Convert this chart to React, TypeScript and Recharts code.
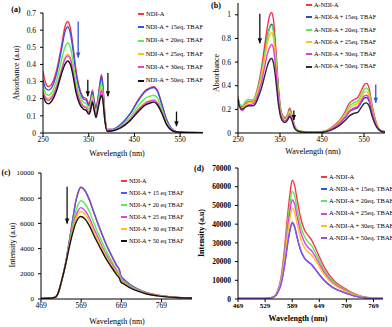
import React from 'react';
import { LineChart, Line, XAxis, YAxis, ReferenceLine, ReferenceDot } from 'recharts';

const FONT = '"Liberation Serif", "Times New Roman", serif';

// ---- (a) NDI-A absorbance ----
const waveA = [250, 256, 262, 270, 280, 290, 298, 304, 310, 316, 322, 330, 338, 345, 350, 354, 358, 362, 366, 371, 375, 378, 381, 385, 390, 400, 420, 440, 460, 475, 485, 492, 500, 510, 520, 530, 540, 550, 570, 600];
const absA0 = [0.36, 0.29, 0.27, 0.29, 0.37, 0.50, 0.62, 0.65, 0.61, 0.50, 0.37, 0.26, 0.21, 0.20, 0.17, 0.20, 0.25, 0.19, 0.15, 0.22, 0.30, 0.34, 0.28, 0.12, 0.02, 0.02, 0.05, 0.11, 0.20, 0.25, 0.265, 0.27, 0.25, 0.17, 0.08, 0.03, 0.01, 0.005, 0.003, 0.002];
const absA15 = [0.31, 0.26, 0.25, 0.27, 0.35, 0.48, 0.59, 0.62, 0.58, 0.48, 0.35, 0.25, 0.20, 0.19, 0.16, 0.19, 0.24, 0.18, 0.14, 0.21, 0.29, 0.33, 0.27, 0.11, 0.02, 0.02, 0.05, 0.11, 0.195, 0.245, 0.26, 0.265, 0.245, 0.165, 0.08, 0.03, 0.01, 0.005, 0.003, 0.002];
const absA20 = [0.28, 0.23, 0.22, 0.24, 0.31, 0.42, 0.50, 0.525, 0.50, 0.41, 0.30, 0.22, 0.18, 0.17, 0.14, 0.17, 0.22, 0.16, 0.12, 0.19, 0.26, 0.29, 0.24, 0.10, 0.02, 0.015, 0.04, 0.09, 0.165, 0.205, 0.215, 0.22, 0.205, 0.14, 0.065, 0.025, 0.01, 0.005, 0.003, 0.002];
const absA25 = [0.25, 0.21, 0.20, 0.22, 0.28, 0.37, 0.44, 0.46, 0.44, 0.36, 0.27, 0.20, 0.16, 0.15, 0.12, 0.15, 0.20, 0.15, 0.11, 0.17, 0.23, 0.26, 0.22, 0.09, 0.015, 0.015, 0.035, 0.08, 0.145, 0.18, 0.19, 0.195, 0.18, 0.125, 0.06, 0.02, 0.008, 0.004, 0.003, 0.002];
const absA30 = [0.24, 0.20, 0.19, 0.21, 0.27, 0.36, 0.43, 0.45, 0.43, 0.35, 0.26, 0.19, 0.155, 0.145, 0.12, 0.145, 0.19, 0.14, 0.105, 0.165, 0.22, 0.25, 0.21, 0.085, 0.015, 0.015, 0.035, 0.075, 0.14, 0.175, 0.185, 0.19, 0.175, 0.12, 0.055, 0.02, 0.008, 0.004, 0.003, 0.002];
const absA50 = [0.22, 0.18, 0.17, 0.19, 0.25, 0.34, 0.40, 0.42, 0.40, 0.33, 0.24, 0.17, 0.14, 0.13, 0.11, 0.13, 0.18, 0.13, 0.09, 0.15, 0.20, 0.22, 0.19, 0.08, 0.01, 0.012, 0.03, 0.07, 0.13, 0.165, 0.175, 0.18, 0.165, 0.115, 0.05, 0.018, 0.007, 0.004, 0.002, 0.002];
const namesA = ['NDI-A', 'NDI-A + 15eq. TBAF', 'NDI-A + 20eq. TBAF', 'NDI-A + 25eq. TBAF', 'NDI-A + 30eq. TBAF', 'NDI-A + 50eq. TBAF'];
const xTicksA = [250, 350, 450, 550];
const yTicksA = [0, 0.1, 0.2, 0.3, 0.4, 0.5, 0.6, 0.7];

// ---- (b) A-NDI-A absorbance ----
const waveB = [250, 253, 260, 268, 276, 284, 290, 298, 306, 314, 320, 326, 330, 334, 340, 346, 352, 358, 363, 368, 373, 378, 384, 390, 400, 415, 430, 450, 470, 490, 505, 515, 525, 535, 545, 551, 556, 562, 570, 580, 590, 600];
const absB0 = [0.31, 0.25, 0.22, 0.25, 0.27, 0.27, 0.30, 0.40, 0.55, 0.75, 0.90, 1.00, 1.02, 0.97, 0.72, 0.40, 0.20, 0.14, 0.13, 0.16, 0.21, 0.16, 0.07, 0.03, 0.015, 0.008, 0.005, 0.01, 0.04, 0.10, 0.18, 0.25, 0.28, 0.30, 0.37, 0.41, 0.42, 0.38, 0.22, 0.08, 0.02, 0.01];
const absB15 = [0.30, 0.24, 0.21, 0.24, 0.26, 0.26, 0.28, 0.37, 0.51, 0.69, 0.82, 0.90, 0.92, 0.88, 0.65, 0.36, 0.17, 0.12, 0.11, 0.13, 0.17, 0.13, 0.055, 0.025, 0.012, 0.006, 0.004, 0.008, 0.03, 0.075, 0.13, 0.18, 0.20, 0.215, 0.265, 0.295, 0.30, 0.27, 0.16, 0.06, 0.02, 0.01];
const absB20 = [0.30, 0.25, 0.23, 0.27, 0.285, 0.28, 0.30, 0.38, 0.51, 0.68, 0.81, 0.89, 0.91, 0.87, 0.65, 0.36, 0.18, 0.13, 0.12, 0.15, 0.19, 0.15, 0.065, 0.03, 0.015, 0.008, 0.005, 0.01, 0.035, 0.09, 0.165, 0.225, 0.255, 0.27, 0.335, 0.37, 0.38, 0.345, 0.20, 0.07, 0.02, 0.01];
const absB25 = [0.29, 0.24, 0.21, 0.24, 0.26, 0.26, 0.28, 0.36, 0.48, 0.64, 0.76, 0.83, 0.85, 0.81, 0.60, 0.33, 0.165, 0.12, 0.11, 0.135, 0.175, 0.135, 0.06, 0.025, 0.012, 0.006, 0.004, 0.008, 0.032, 0.083, 0.15, 0.205, 0.235, 0.25, 0.31, 0.345, 0.35, 0.32, 0.185, 0.065, 0.02, 0.01];
const absB30 = [0.29, 0.23, 0.19, 0.22, 0.24, 0.245, 0.26, 0.33, 0.43, 0.57, 0.67, 0.73, 0.75, 0.72, 0.54, 0.30, 0.15, 0.11, 0.10, 0.125, 0.16, 0.125, 0.055, 0.022, 0.01, 0.005, 0.004, 0.007, 0.028, 0.075, 0.135, 0.185, 0.21, 0.225, 0.285, 0.315, 0.32, 0.29, 0.17, 0.06, 0.02, 0.01];
const absB50 = [0.29, 0.23, 0.20, 0.22, 0.23, 0.23, 0.24, 0.30, 0.38, 0.49, 0.57, 0.62, 0.63, 0.60, 0.45, 0.25, 0.13, 0.095, 0.09, 0.11, 0.14, 0.11, 0.045, 0.02, 0.01, 0.005, 0.004, 0.006, 0.022, 0.06, 0.105, 0.145, 0.165, 0.175, 0.225, 0.25, 0.255, 0.23, 0.135, 0.05, 0.015, 0.008];
const namesB = ['A-NDI-A', 'A-NDI-A + 15eq. TBAF', 'A-NDI-A + 20eq. TBAF', 'A-NDI-A + 25eq. TBAF', 'A-NDI-A + 30eq. TBAF', 'A-NDI-A + 50eq. TBAF'];
const xTicksB = [250, 350, 450, 550];
const yTicksB = [0, 0.2, 0.4, 0.6, 0.8, 1];

// ---- (c) NDI-A emission ----
const waveC = [469, 490, 505, 512, 520, 530, 540, 548, 556, 562, 568, 580, 590, 600, 615, 630, 645, 658, 664, 668, 675, 690, 710, 730, 760, 800, 845];
const emC0 = [50, 60, 150, 500, 1400, 2800, 4700, 6300, 7800, 8500, 8850, 8500, 7800, 6900, 5600, 4400, 3400, 2600, 2300, 1800, 1550, 1150, 780, 520, 300, 150, 80];
const emC15 = [50, 60, 150, 500, 1400, 2800, 4700, 6300, 7800, 8520, 8880, 8550, 7850, 6950, 5650, 4450, 3450, 2650, 2350, 1850, 1580, 1170, 790, 530, 310, 150, 80];
const emC20 = [50, 60, 150, 500, 1400, 2750, 4500, 5900, 7000, 7550, 7800, 7500, 6900, 6100, 4950, 3900, 3000, 2300, 2050, 1650, 1420, 1060, 720, 480, 280, 140, 80];
const emC25 = [50, 60, 150, 500, 1400, 2750, 4400, 5600, 6600, 7050, 7250, 6950, 6400, 5650, 4600, 3600, 2800, 2150, 1900, 1550, 1350, 1000, 680, 460, 270, 140, 80];
const emC30 = [50, 60, 150, 500, 1400, 2700, 4300, 5450, 6350, 6780, 6950, 6680, 6130, 5400, 4400, 3450, 2650, 2050, 1800, 1450, 1280, 960, 650, 440, 260, 130, 80];
const emC50 = [50, 60, 150, 500, 1400, 2700, 4200, 5250, 6050, 6420, 6550, 6300, 5780, 5100, 4150, 3250, 2500, 1900, 1650, 1350, 1200, 900, 620, 420, 250, 130, 80];
const namesC = ['NDI-A', 'NDI-A + 15 eq TBAF', 'NDI-A + 20 eq TBAF', 'NDI-A + 25 eq TBAF', 'NDI-A + 30 eq TBAF', 'NDI-A + 50 eq TBAF'];
const xTicksC = [469, 569, 669, 769];
const yTicksC = [0, 2000, 4000, 6000, 8000, 10000];

// ---- (d) A-NDI-A emission ----
const waveD = [469, 500, 530, 540, 548, 556, 564, 572, 579, 584, 589, 594, 600, 608, 616, 624, 632, 640, 650, 660, 672, 685, 700, 710, 725, 745, 770, 790];
const emD0 = [300, 300, 300, 600, 1200, 4000, 11000, 27000, 45000, 56000, 63500, 61000, 53000, 43000, 37000, 34000, 31500, 27500, 22000, 17000, 12500, 9000, 6500, 5000, 3000, 1300, 500, 300];
const emD15 = [300, 300, 300, 550, 950, 2950, 7700, 17800, 29600, 36500, 40500, 38600, 32700, 25800, 21800, 19800, 18300, 15800, 12700, 9900, 7300, 5300, 3850, 2950, 1750, 780, 340, 300];
const emD20 = [300, 300, 300, 600, 1150, 3800, 10200, 24500, 41000, 51000, 57500, 55500, 48000, 39000, 33500, 30500, 28500, 25000, 20000, 15500, 11400, 8200, 5900, 4500, 2700, 1200, 450, 300];
const emD25 = [300, 300, 300, 600, 1100, 3600, 9600, 22800, 38000, 47000, 53000, 51000, 44000, 35500, 30500, 27500, 25800, 22800, 18300, 14200, 10500, 7600, 5500, 4200, 2500, 1100, 420, 300];
const emD30 = [300, 300, 300, 600, 1050, 3400, 9000, 21000, 35000, 43000, 48500, 46500, 40000, 32000, 27500, 25000, 23500, 20800, 16800, 13000, 9600, 7000, 5000, 3800, 2300, 1000, 400, 300];
const emD50 = [300, 300, 300, 550, 950, 3000, 7800, 18000, 30000, 37000, 41000, 39000, 33000, 26000, 22000, 20000, 18500, 16000, 12800, 10000, 7400, 5400, 3900, 3000, 1800, 800, 350, 300];
const namesD = ['A-NDI-A', 'A-NDI-A + 15eq. TBAF', 'A-NDI-A + 20eq. TBAF', 'A-NDI-A + 25eq. TBAF', 'A-NDI-A + 30eq. TBAF', 'A-NDI-A + 50eq. TBAF'];
const xTicksD = [469, 529, 589, 649, 709, 769];
const yTicksD = [0, 10000, 20000, 30000, 40000, 50000, 60000, 70000];

const RED = '#ff3346';
const BLUE = '#3650e8';
const GREEN = '#55ee55';
const YELLOW = '#ffc21a';
const MAGENTA = '#e23ee8';
const BLACK = '#141414';
const PURPLE = '#9050f0';

const colorsA = [RED, BLUE, GREEN, YELLOW, MAGENTA, BLACK];
const colorsB = [RED, '#3a4aa8', GREEN, YELLOW, MAGENTA, '#2a2a3a'];
const colorsC = [RED, '#5a5ae0', GREEN, MAGENTA, YELLOW, BLACK];
const colorsD = [RED, BLUE, GREEN, MAGENTA, YELLOW, PURPLE];

type Arrow = { x: number; from: number; to: number; color: string };
const arrowsA: Arrow[] = [
  { x: 327, from: 0.65, to: 0.44, color: '#2f55d8' },
  { x: 348, from: 0.31, to: 0.215, color: '#111' },
  { x: 392, from: 0.35, to: 0.215, color: '#111' },
  { x: 542, from: 0.125, to: 0.04, color: '#111' },
];
const arrowsB: Arrow[] = [
  { x: 302, from: 1.01, to: 0.76, color: '#111' },
  { x: 383, from: 0.19, to: 0.11, color: '#111' },
  { x: 578, from: 0.41, to: 0.255, color: '#2f55d8' },
];
const arrowsC: Arrow[] = [{ x: 534, from: 8900, to: 6000, color: '#111' }];

const toRows = (wave: number[], series: number[][]) =>
  wave.map((w, i) => {
    const row: Record<string, number> = { w };
    series.forEach((s, k) => (row[`s${k}`] = s[i]));
    return row;
  });

type PanelProps = {
  left: number; top: number; width: number; height: number;
  margin: { top: number; right: number; bottom: number; left: number };
  yWidth: number; xHeight: number;
  rows: Record<string, number>[];
  colors: string[];
  xDomain: [number, number]; xTicks: number[];
  yDomain: [number, number]; yTicks: number[];
  xFont: number; yFont: number; bold?: boolean;
  arrows?: Arrow[];
};

function Panel(p: PanelProps) {
  const w = p.bold ? 700 : 400;
  return (
    <div style={{ position: 'absolute', left: p.left, top: p.top, width: p.width, height: p.height, overflow: 'hidden' }}>
      <LineChart width={p.width} height={p.height} data={p.rows} margin={p.margin}>
        <XAxis
          dataKey="w" type="number" domain={p.xDomain} ticks={p.xTicks} interval={0} allowDataOverflow
          height={p.xHeight} stroke="#000" tickSize={3} tickMargin={1}
          tick={{ fill: '#000', fontSize: p.xFont, fontFamily: FONT, fontWeight: w }}
        />
        <YAxis
          type="number" domain={p.yDomain} ticks={p.yTicks} interval={0} allowDataOverflow
          width={p.yWidth} stroke="#000" tickSize={3} tickMargin={4}
          tick={{ fill: '#000', fontSize: p.yFont, fontFamily: FONT, fontWeight: w }}
        />
        {p.colors.map((c, k) => (
          <Line key={k} type="monotone" dataKey={`s${k}`} stroke={c} strokeWidth={1.4} dot={false} isAnimationActive={false} />
        ))}
        {(p.arrows || []).map((a, k) => (
          <ReferenceLine key={`l${k}`} segment={[{ x: a.x, y: a.from }, { x: a.x, y: a.to }]} stroke={a.color} strokeWidth={1.3} ifOverflow="visible" />
        ))}
        {(p.arrows || []).map((a, k) => (
          <ReferenceDot
            key={`d${k}`} x={a.x} y={a.to} r={0} ifOverflow="visible"
            shape={(s: any) => (
              <path d={`M${s.cx - 2.2},${s.cy - 5}L${s.cx + 2.2},${s.cy - 5}L${s.cx},${s.cy + 0.5}Z`} fill={a.color} />
            )}
          />
        ))}
      </LineChart>
    </div>
  );
}

const txt = (s: React.CSSProperties): React.CSSProperties => ({
  position: 'absolute', fontFamily: FONT, color: '#000', lineHeight: 1, whiteSpace: 'nowrap', ...s,
});

function Title({ x, y, text, size, bold, rotate }: { x: number; y: number; text: string; size: number; bold?: boolean; rotate?: boolean }) {
  return (
    <div style={txt({ left: x, top: y, fontSize: size, fontWeight: bold ? 700 : 400, transform: `translate(-50%,-50%)${rotate ? ' rotate(-90deg)' : ''}` })}>
      {text}
    </div>
  );
}

function LegendBox({ x, y, gap, names, colors, size, clipRight }: { x: number; y: number; gap: number; names: string[]; colors: string[]; size: number; clipRight?: number }) {
  return (
    <div style={{ position: 'absolute', left: x, top: y, width: clipRight ? clipRight - x : undefined, overflow: 'hidden' }}>
      {names.map((n, k) => (
        <div key={k} style={{ display: 'flex', alignItems: 'center', height: gap }}>
          <span style={{ display: 'inline-block', width: 6, height: 2, background: colors[k], marginRight: 2 }} />
          <span style={{ fontFamily: FONT, fontSize: size, lineHeight: 1, whiteSpace: 'nowrap' }}>{n}</span>
        </div>
      ))}
    </div>
  );
}

export default function App() {
  return (
    <div style={{ position: 'absolute', left: 0, top: 0, width: 392, height: 327, background: '#fff', overflow: 'hidden' }}>
      <Panel
        left={0} top={0} width={203} height={160}
        margin={{ top: 13, right: 0, bottom: 0, left: 0 }} yWidth={43} xHeight={27}
        rows={toRows(waveA, [absA0, absA15, absA20, absA25, absA30, absA50])} colors={colorsA}
        xDomain={[250, 600]} xTicks={xTicksA} yDomain={[0, 0.7]} yTicks={yTicksA}
        xFont={7.5} yFont={7.5} arrows={arrowsA}
      />
      <Panel
        left={203} top={0} width={189} height={160}
        margin={{ top: 3, right: 7, bottom: 0, left: 0 }} yWidth={35} xHeight={27}
        rows={toRows(waveB, [absB0, absB15, absB20, absB25, absB30, absB50])} colors={colorsB}
        xDomain={[250, 600]} xTicks={xTicksB} yDomain={[0, 1.1]} yTicks={yTicksB}
        xFont={7.5} yFont={7.5} arrows={arrowsB}
      />
      <Panel
        left={0} top={160} width={200} height={167}
        margin={{ top: 13, right: 8, bottom: 0, left: 0 }} yWidth={41} xHeight={28}
        rows={toRows(waveC, [emC0, emC15, emC20, emC25, emC30, emC50])} colors={colorsC}
        xDomain={[469, 845]} xTicks={xTicksC} yDomain={[0, 10000]} yTicks={yTicksC}
        xFont={7.5} yFont={7} arrows={arrowsC}
      />
      <Panel
        left={195} top={160} width={197} height={167}
        margin={{ top: 8, right: 9, bottom: 0, left: 0 }} yWidth={43} xHeight={28}
        rows={toRows(waveD, [emD0, emD15, emD20, emD25, emD30, emD50])} colors={colorsD}
        xDomain={[469, 790]} xTicks={xTicksD} yDomain={[0, 70000]} yTicks={yTicksD}
        xFont={7} yFont={7.5} bold
      />

      <Title x={16} y={10} text="(a)" size={8} bold />
      <Title x={216} y={6} text="(b)" size={8} bold />
      <Title x={6} y={173} text="(c)" size={8} bold />
      <Title x={199} y={169} text="(d)" size={8} bold />

      <Title x={17} y={73} text="Absorbance (a.u)" size={8} rotate />
      <Title x={217} y={73} text="Absorbance" size={8} rotate />
      <Title x={13} y={245} text="Intensity (a.u)" size={8} rotate />
      <Title x={202} y={233} text="Intensity (a.u)" size={8} bold rotate />

      <Title x={117} y={154} text="Wavelength (nm)" size={8} />
      <Title x={313} y={152} text="Wavelength (nm)" size={8} />
      <Title x={117} y={322} text="Wavelength (nm)" size={8} />
      <Title x={298} y={319} text="Wavelength (nm)" size={8} bold />

      <LegendBox x={138} y={7.5} gap={13.3} names={namesA} colors={colorsA} size={6.5} clipRight={203} />
      <LegendBox x={306} y={-1} gap={12.3} names={namesB} colors={colorsB} size={6.3} />
      <LegendBox x={121} y={175} gap={12} names={namesC} colors={colorsC} size={6.2} />
      <LegendBox x={321} y={171} gap={12.2} names={namesD} colors={colorsD} size={6.5} />
    </div>
  );
}
